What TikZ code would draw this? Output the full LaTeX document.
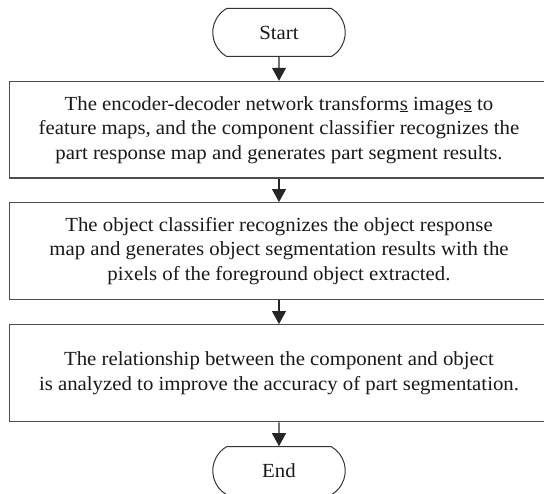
\documentclass[tikz,border=0pt]{standalone}
\usepackage{fontspec}
\setmainfont{Liberation Serif}[FakeStretch=1.04]
\usetikzlibrary{arrows.meta,shapes.misc}
\begin{document}
\begin{tikzpicture}[x=1pt,y=-1pt,
  term/.style={rounded rectangle, rounded rectangle arc length=120, draw=black!80, line width=1pt, minimum width=132.5pt, minimum height=48pt, inner sep=0pt, text=black!90, font=\fontsize{20}{24.5}\selectfont},
  procbox/.style={rectangle, draw=black!70, line width=1.3pt, minimum width=539pt, minimum height=96.5pt, align=center, inner sep=0pt, text=black!90, font=\fontsize{20}{24.5}\selectfont},
  flow/.style={-{Triangle[width=14pt,length=13pt]}, line width=1.1pt, draw=black!85}]
\useasboundingbox (0,0) rectangle (544,494);
\clip (0,0) rectangle (544,494);
\node[term] (start) at (279,32.5) {Start};
\node[procbox] (b1) at (279,129.7) {The encoder-decoder network transform\underline{s} image\underline{s} to\\feature maps, and the component classifier recognizes the\\part response map and generates part segment results.};
\node[procbox, minimum height=96.6pt] (b2) at (279,251) {The object classifier recognizes the object response\\map and generates object segmentation results with the\\pixels of the foreground object extracted.};
\node[procbox, minimum height=97pt] (b3) at (279,373.2) {The relationship between the component and object\\is analyzed to improve the accuracy of part segmentation.};
\node[term] (end) at (279,470.7) {End};
\draw[flow] (start) -- (b1);
\draw[flow] (b1) -- (b2);
\draw[flow] (b2) -- (b3);
\draw[flow] (b3) -- (end);
\end{tikzpicture}
\end{document}
